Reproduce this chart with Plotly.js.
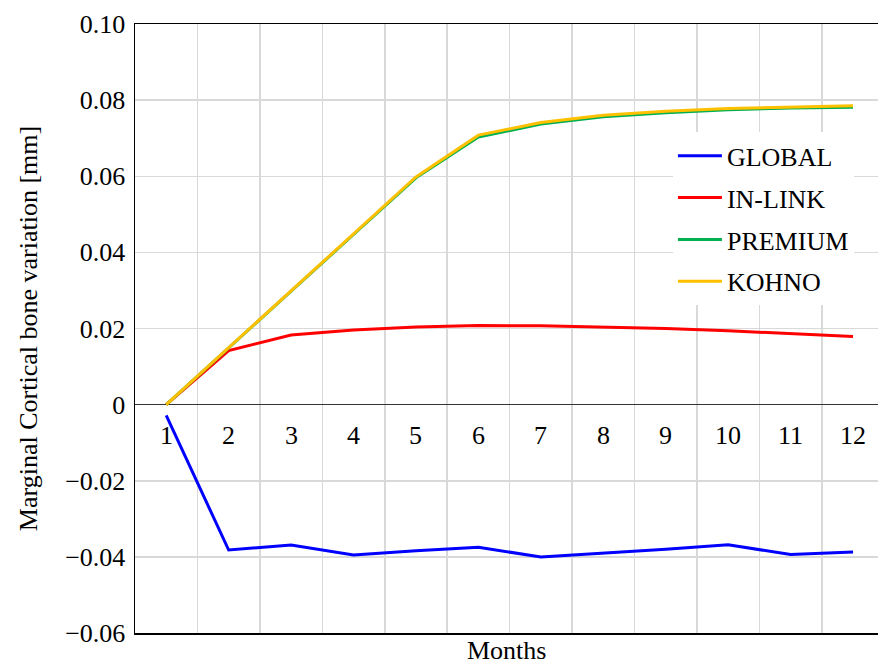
<!DOCTYPE html>
<html>
<head>
<meta charset="utf-8">
<script src="https://cdn.plot.ly/plotly-3.0.1.min.js"></script>
<style>html,body{margin:0;padding:0;background:#fff;}#chart{width:878px;height:664px;}</style>
</head>
<body>
<div id="chart"></div>
<script>
const months = [1, 2, 3, 4, 5, 6, 7, 8, 9, 10, 11, 12];
const monthLabels = ["1", "2", "3", "4", "5", "6", "7", "8", "9", "10", "11", "12"];
const seriesNames = ["GLOBAL", "IN-LINK", "PREMIUM", "KOHNO"];
const globalVals = [-0.0028, -0.0382, -0.0369, -0.0395, -0.0384, -0.0375, -0.0400, -0.0390, -0.0380, -0.0368, -0.0394, -0.0387];
const inlinkVals = [0.0, 0.0142, 0.0183, 0.0196, 0.0204, 0.0208, 0.0207, 0.0204, 0.0200, 0.0194, 0.0187, 0.0179];
const premiumVals = [0.0, 0.0150, 0.0298, 0.0447, 0.0596, 0.0703, 0.0737, 0.0756, 0.0767, 0.0775, 0.0779, 0.0781];
const kohnoVals = [0.0, 0.0150, 0.0300, 0.0449, 0.0598, 0.0708, 0.0741, 0.0760, 0.0771, 0.0778, 0.0782, 0.0785];
const colors = ["#0000FF", "#FF0000", "#00B050", "#FFC000"];
const allVals = [globalVals, inlinkVals, premiumVals, kohnoVals];
const yTicks = [-0.06, -0.04, -0.02, 0, 0.02, 0.04, 0.06, 0.08, 0.10];
const yTickText = ["\u22120.06", "\u22120.04", "\u22120.02", "0", "0.02", "0.04", "0.06", "0.08", "0.10"];
const gridPos = [1.5, 2.5, 3.5, 4.5, 5.5, 6.5, 7.5, 8.5, 9.5, 10.5, 11.5];

const font = "Liberation Serif, Times New Roman, serif";
const FS = 26;

const traces = allVals.map((v, i) => ({
  x: months, y: v, type: "scatter", mode: "lines",
  name: seriesNames[i], legendgroup: "g" + i,
  line: {color: colors[i], width: 3}
}));

const annotations = months.map((m, i) => ({
  x: m, y: 0, xref: "x", yref: "y", text: monthLabels[i],
  showarrow: false, yanchor: "top", yshift: -14,
  font: {family: font, size: FS, color: "#000"}
}));
annotations.push({
  x: 0.5, y: 0, xref: "paper", yref: "paper", text: "Months",
  showarrow: false, yanchor: "top", yshift: -1,
  font: {family: font, size: FS, color: "#000"}
});

const layout = {
  width: 878, height: 664,
  margin: {l: 135, r: 0, t: 24, b: 31},
  paper_bgcolor: "#fff", plot_bgcolor: "#fff",
  font: {family: font, size: FS, color: "#000"},
  showlegend: true,
  legend: {
    x: 0.724, y: 0.822, xanchor: "left", yanchor: "top",
    bgcolor: "#fff", borderwidth: 0,
    traceorder: "grouped", tracegroupgap: 5,
    font: {family: font, size: FS, color: "#000"},
    itemwidth: 44
  },
  xaxis: {
    range: [0.5, 12.4], tickvals: gridPos, showticklabels: false,
    showgrid: true, gridcolor: "#d9d9d9", gridwidth: 1.5,
    showline: true, linecolor: "#000", linewidth: 1.5, mirror: true,
    zeroline: false, ticks: "", fixedrange: true
  },
  yaxis: {
    range: [-0.06, 0.10], tickvals: yTicks, ticktext: yTickText,
    showgrid: true, gridcolor: "#d9d9d9", gridwidth: 1.5,
    showline: true, linecolor: "#000", linewidth: 1.5,
    zeroline: true, zerolinecolor: "#333", zerolinewidth: 1.5,
    ticks: "", ticklabelstandoff: 3,
    tickfont: {family: font, size: FS, color: "#000"},
    title: {text: "Marginal Cortical bone variation [mm]", standoff: 20,
            font: {family: font, size: FS, color: "#000"}}
  },
  annotations: annotations
};

Plotly.newPlot("chart", traces, layout, {displayModeBar: false, staticPlot: true});
</script>
</body>
</html>
